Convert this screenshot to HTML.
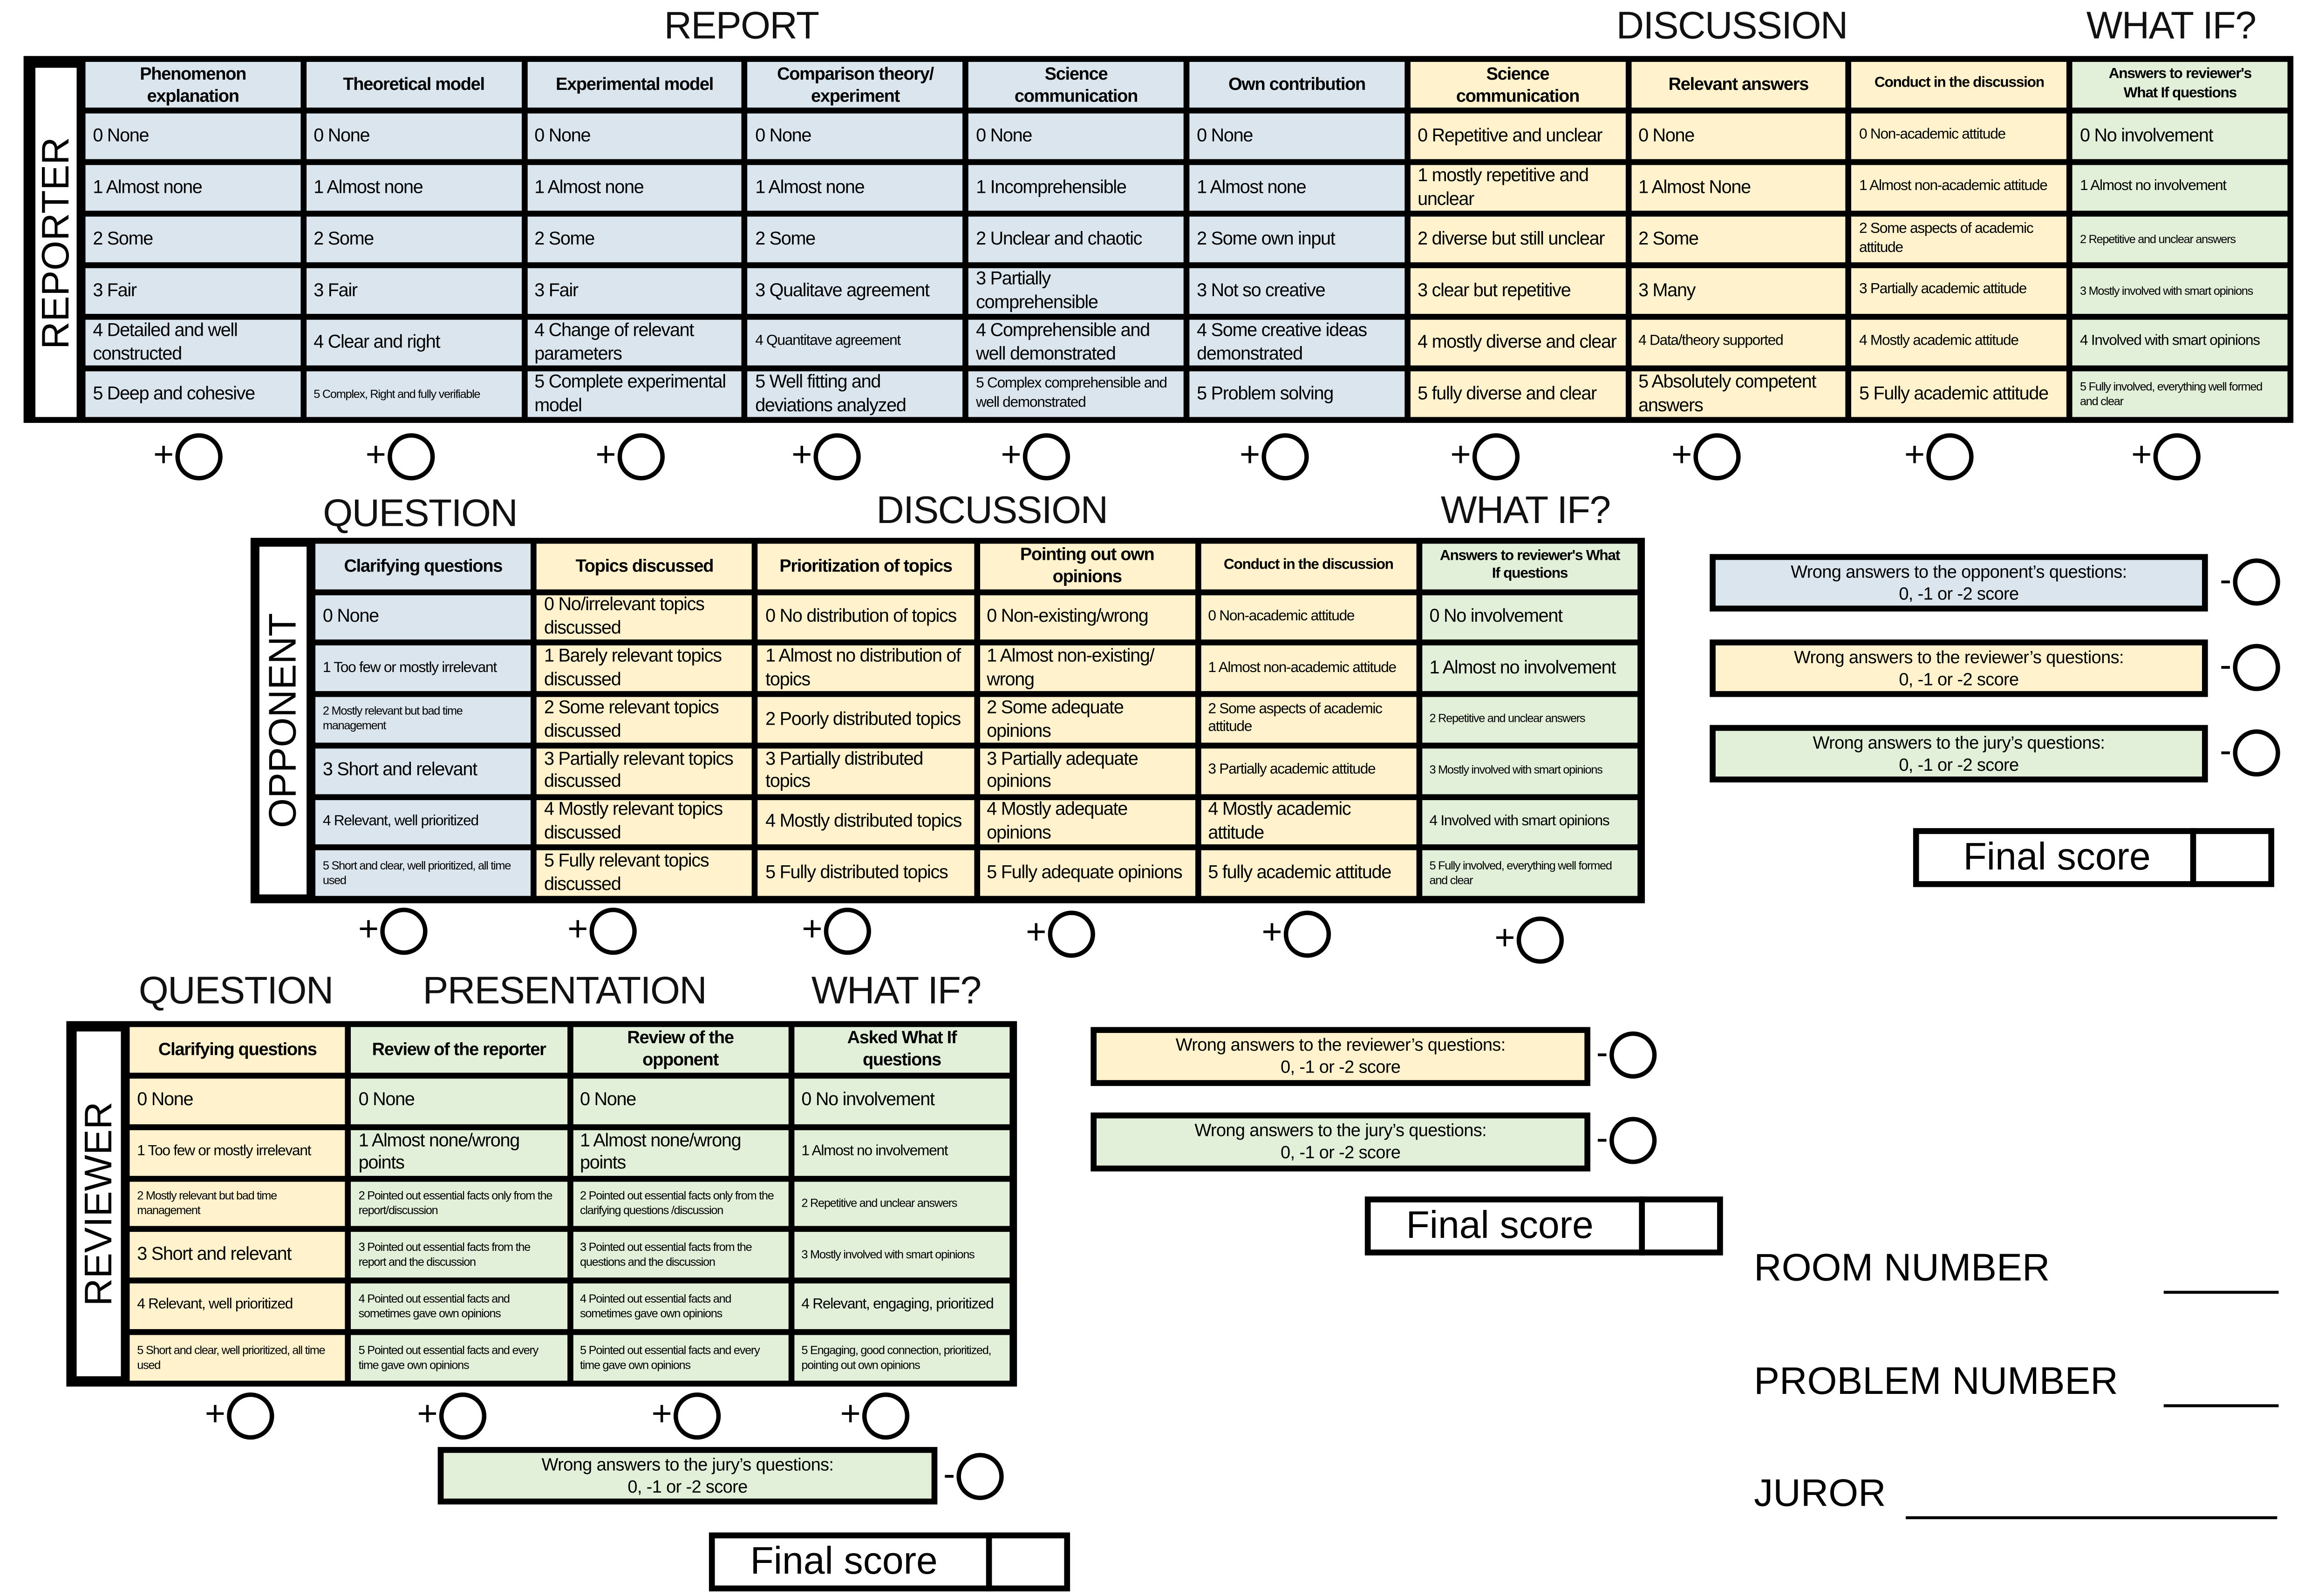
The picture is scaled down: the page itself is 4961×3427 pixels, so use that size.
<!DOCTYPE html>
<html><head><meta charset="utf-8"><style>
html,body{margin:0;padding:0;background:#fff;}
body{width:4961px;height:3425px;overflow:hidden;position:relative;font-family:"Liberation Sans",sans-serif;}
#w{position:absolute;left:0;top:0;width:1568px;height:1083px;transform:scale(3.164);transform-origin:0 0;}
.a{position:absolute;}
.t{position:absolute;font-size:26px;color:#111;white-space:nowrap;transform:translateX(-50%);letter-spacing:-0.5px;}
.tbl{position:absolute;background:#000;}
.lbl{position:absolute;background:#fff;}
.lbl span{position:absolute;left:50%;top:50%;transform:translate(-50%,-50%) rotate(-90deg);font-size:26px;white-space:nowrap;}
.g{position:absolute;display:grid;gap:4px;}
.g div{overflow:hidden;font-size:12.5px;line-height:1.25;padding:1px 5px;display:flex;align-items:center;letter-spacing:-0.4px;}
.g div.h{font-weight:bold;font-size:12px;justify-content:center;text-align:center;padding:1px 12px;}
.b{background:#dae5ee;}.y{background:#fff2cc;}.gr{background:#e2efd9;}
.s{font-size:10px!important;}.xs{font-size:8px!important;}
.pc{position:absolute;font-size:24px;line-height:30px;height:32px;}
.pc i{display:inline-block;width:26px;height:26px;border:3px solid #000;border-radius:50%;vertical-align:middle;margin-left:1px;}
.wb{position:absolute;border:4px solid #000;font-size:12px;text-align:center;line-height:15px;box-sizing:border-box;padding-top:1px;letter-spacing:-0.2px;}
.fs{position:absolute;border:4px solid #000;box-sizing:border-box;font-size:26px;line-height:31px;background:#fff;}
.fs b{position:absolute;top:-4px;bottom:-4px;width:4px;background:#000;}
.rt{position:absolute;font-size:26px;white-space:nowrap;}
.ln{position:absolute;height:2px;background:#000;}
</style></head><body><div id="w">

<div class="t" style="left:503px;top:2px">REPORT</div>
<div class="t" style="left:1175px;top:2px">DISCUSSION</div>
<div class="t" style="left:1473px;top:2px">WHAT IF?</div>
<div class="t" style="left:285px;top:333px">QUESTION</div>
<div class="t" style="left:673px;top:331px">DISCUSSION</div>
<div class="t" style="left:1035px;top:331px">WHAT IF?</div>
<div class="t" style="left:160px;top:657px">QUESTION</div>
<div class="t" style="left:383px;top:657px">PRESENTATION</div>
<div class="t" style="left:608px;top:657px">WHAT IF?</div>

<div class="tbl" style="left:16px;top:38px;width:1540px;height:249px">
<div class="lbl" style="left:8px;top:8px;width:28px;height:237px"><span>REPORTER</span></div>
<div class="g" style="left:42px;top:4px;width:1494px;height:241px;grid-template-columns:repeat(10,1fr);grid-template-rows:repeat(7,1fr)">
<div class="h b">Phenomenon explanation</div><div class="h b">Theoretical model</div><div class="h b">Experimental model</div><div class="h b">Comparison theory/ experiment</div><div class="h b">Science communication</div><div class="h b">Own contribution</div><div class="h y">Science communication</div><div class="h y">Relevant answers</div><div class="h y s">Conduct in the discussion</div><div class="h gr s">Answers to reviewer's What If questions</div>
<div class="b">0 None</div><div class="b">0 None</div><div class="b">0 None</div><div class="b">0 None</div><div class="b">0 None</div><div class="b">0 None</div><div class="y">0 Repetitive and unclear</div><div class="y">0 None</div><div class="y s">0 Non-academic attitude</div><div class="gr">0 No involvement</div>
<div class="b">1 Almost none</div><div class="b">1 Almost none</div><div class="b">1 Almost none</div><div class="b">1 Almost none</div><div class="b">1 Incomprehensible</div><div class="b">1 Almost none</div><div class="y">1 mostly repetitive and unclear</div><div class="y">1 Almost None</div><div class="y s">1 Almost non-academic attitude</div><div class="gr s">1 Almost no involvement</div>
<div class="b">2 Some</div><div class="b">2 Some</div><div class="b">2 Some</div><div class="b">2 Some</div><div class="b">2 Unclear and chaotic</div><div class="b">2 Some own input</div><div class="y">2 diverse but still unclear</div><div class="y">2 Some</div><div class="y s">2 Some aspects of academic attitude</div><div class="gr xs">2 Repetitive and unclear answers</div>
<div class="b">3 Fair</div><div class="b">3 Fair</div><div class="b">3 Fair</div><div class="b">3 Qualitave agreement</div><div class="b">3 Partially comprehensible</div><div class="b">3 Not so creative</div><div class="y">3 clear but repetitive</div><div class="y">3 Many</div><div class="y s">3 Partially academic attitude</div><div class="gr xs">3 Mostly involved with smart opinions</div>
<div class="b">4 Detailed and well constructed</div><div class="b">4 Clear and right</div><div class="b">4 Change of relevant parameters</div><div class="b s">4 Quantitave agreement</div><div class="b">4 Comprehensible and well demonstrated</div><div class="b">4 Some creative ideas demonstrated</div><div class="y">4 mostly diverse and clear</div><div class="y s">4 Data/theory supported</div><div class="y s">4 Mostly academic attitude</div><div class="gr s">4 Involved with smart opinions</div>
<div class="b">5 Deep and cohesive</div><div class="b xs">5 Complex, Right and fully verifiable</div><div class="b">5 Complete experimental model</div><div class="b">5 Well fitting and deviations analyzed</div><div class="b s">5 Complex comprehensible and well demonstrated</div><div class="b">5 Problem solving</div><div class="y">5 fully diverse and clear</div><div class="y">5 Absolutely competent answers</div><div class="y">5 Fully academic attitude</div><div class="gr xs">5 Fully involved, everything well formed and clear</div>
</div></div>

<div class="pc" style="left:104px;top:294px">+<i></i></div>
<div class="pc" style="left:248px;top:294px">+<i></i></div>
<div class="pc" style="left:404px;top:294px">+<i></i></div>
<div class="pc" style="left:537px;top:294px">+<i></i></div>
<div class="pc" style="left:679px;top:294px">+<i></i></div>
<div class="pc" style="left:841px;top:294px">+<i></i></div>
<div class="pc" style="left:984px;top:294px">+<i></i></div>
<div class="pc" style="left:1134px;top:294px">+<i></i></div>
<div class="pc" style="left:1292px;top:294px">+<i></i></div>
<div class="pc" style="left:1446px;top:294px">+<i></i></div>

<div class="tbl" style="left:170px;top:365px;width:946px;height:248px">
<div class="lbl" style="left:6px;top:6px;width:32px;height:236px"><span>OPPONENT</span></div>
<div class="g" style="left:44px;top:4px;width:897px;height:239px;grid-template-columns:repeat(6,1fr);grid-template-rows:repeat(7,1fr)">
<div class="h b">Clarifying questions</div><div class="h y">Topics discussed</div><div class="h y">Prioritization of topics</div><div class="h y">Pointing out own opinions</div><div class="h y s">Conduct in the discussion</div><div class="h gr s">Answers to reviewer's What If questions</div>
<div class="b">0 None</div><div class="y">0 No/irrelevant topics discussed</div><div class="y">0 No distribution of topics</div><div class="y">0 Non-existing/wrong</div><div class="y s">0 Non-academic attitude</div><div class="gr">0 No involvement</div>
<div class="b s">1 Too few or mostly irrelevant</div><div class="y">1 Barely relevant topics discussed</div><div class="y">1 Almost no distribution of topics</div><div class="y">1 Almost non-existing/ wrong</div><div class="y s">1 Almost non-academic attitude</div><div class="gr">1 Almost no involvement</div>
<div class="b xs">2 Mostly relevant but bad time management</div><div class="y">2 Some relevant topics discussed</div><div class="y">2 Poorly distributed topics</div><div class="y">2 Some adequate opinions</div><div class="y s">2 Some aspects of academic attitude</div><div class="gr xs">2 Repetitive and unclear answers</div>
<div class="b">3 Short and relevant</div><div class="y">3 Partially relevant topics discussed</div><div class="y">3 Partially distributed topics</div><div class="y">3 Partially adequate opinions</div><div class="y s">3 Partially academic attitude</div><div class="gr xs">3 Mostly involved with smart opinions</div>
<div class="b s">4 Relevant, well prioritized</div><div class="y">4 Mostly relevant topics discussed</div><div class="y">4 Mostly distributed topics</div><div class="y">4 Mostly adequate opinions</div><div class="y">4 Mostly academic attitude</div><div class="gr s">4 Involved with smart opinions</div>
<div class="b xs">5 Short and clear, well prioritized, all time used</div><div class="y">5 Fully relevant topics discussed</div><div class="y">5 Fully distributed topics</div><div class="y">5 Fully adequate opinions</div><div class="y">5 fully academic attitude</div><div class="gr xs">5 Fully involved, everything well formed and clear</div>
</div></div>

<div class="pc" style="left:243px;top:616px">+<i></i></div>
<div class="pc" style="left:385px;top:616px">+<i></i></div>
<div class="pc" style="left:544px;top:616px">+<i></i></div>
<div class="pc" style="left:696px;top:618px">+<i></i></div>
<div class="pc" style="left:856px;top:618px">+<i></i></div>
<div class="pc" style="left:1014px;top:622px">+<i></i></div>

<div class="wb b" style="left:1160px;top:376px;width:338px;height:39px">Wrong answers to the opponent’s questions:<br>0, -1 or -2 score</div>
<div class="pc" style="left:1506px;top:379px">-<i></i></div>
<div class="wb y" style="left:1160px;top:434px;width:338px;height:39px">Wrong answers to the reviewer’s questions:<br>0, -1 or -2 score</div>
<div class="pc" style="left:1506px;top:437px">-<i></i></div>
<div class="wb gr" style="left:1160px;top:492px;width:338px;height:39px">Wrong answers to the jury’s questions:<br>0, -1 or -2 score</div>
<div class="pc" style="left:1506px;top:495px">-<i></i></div>
<div class="fs" style="left:1298px;top:562px;width:245px;height:40px"><span style="position:absolute;left:30px;top:0">Final score</span><b style="left:184px"></b></div>

<div class="tbl" style="left:45px;top:693px;width:645px;height:248px">
<div class="lbl" style="left:7px;top:7px;width:30px;height:234px"><span>REVIEWER</span></div>
<div class="g" style="left:43px;top:4px;width:597px;height:240px;grid-template-columns:repeat(4,1fr);grid-template-rows:repeat(7,1fr)">
<div class="h y">Clarifying questions</div><div class="h gr">Review of the reporter</div><div class="h gr">Review of the opponent</div><div class="h gr">Asked What If questions</div>
<div class="y">0 None</div><div class="gr">0 None</div><div class="gr">0 None</div><div class="gr">0 No involvement</div>
<div class="y s">1 Too few or mostly irrelevant</div><div class="gr">1 Almost none/wrong points</div><div class="gr">1 Almost none/wrong points</div><div class="gr s">1 Almost no involvement</div>
<div class="y xs">2 Mostly relevant but bad time management</div><div class="gr xs">2 Pointed out essential facts only from the report/discussion</div><div class="gr xs">2 Pointed out essential facts only from the clarifying questions /discussion</div><div class="gr xs">2 Repetitive and unclear answers</div>
<div class="y">3 Short and relevant</div><div class="gr xs">3 Pointed out essential facts from the report and the discussion</div><div class="gr xs">3 Pointed out essential facts from the questions and the discussion</div><div class="gr xs">3 Mostly involved with smart opinions</div>
<div class="y s">4 Relevant, well prioritized</div><div class="gr xs">4 Pointed out essential facts and sometimes gave own opinions</div><div class="gr xs">4 Pointed out essential facts and sometimes gave own opinions</div><div class="gr s">4 Relevant, engaging, prioritized</div>
<div class="y xs">5 Short and clear, well prioritized, all time used</div><div class="gr xs">5 Pointed out essential facts and every time gave own opinions</div><div class="gr xs">5 Pointed out essential facts and every time gave own opinions</div><div class="gr xs">5 Engaging, good connection, prioritized, pointing out own opinions</div>
</div></div>

<div class="pc" style="left:139px;top:945px">+<i></i></div>
<div class="pc" style="left:283px;top:945px">+<i></i></div>
<div class="pc" style="left:442px;top:945px">+<i></i></div>
<div class="pc" style="left:570px;top:945px">+<i></i></div>

<div class="wb y" style="left:740px;top:697px;width:339px;height:40px">Wrong answers to the reviewer’s questions:<br>0, -1 or -2 score</div>
<div class="pc" style="left:1083px;top:700px">-<i></i></div>
<div class="wb gr" style="left:740px;top:755px;width:339px;height:40px">Wrong answers to the jury’s questions:<br>0, -1 or -2 score</div>
<div class="pc" style="left:1083px;top:758px">-<i></i></div>
<div class="fs" style="left:926px;top:812px;width:243px;height:40px"><span style="position:absolute;left:24px;top:0">Final score</span><b style="left:182px"></b></div>

<div class="wb gr" style="left:297px;top:982px;width:339px;height:39px">Wrong answers to the jury’s questions:<br>0, -1 or -2 score</div>
<div class="pc" style="left:640px;top:986px">-<i></i></div>
<div class="fs" style="left:481px;top:1040px;width:245px;height:40px"><span style="position:absolute;left:24px;top:0">Final score</span><b style="left:184px"></b></div>

<div class="rt" style="left:1190px;top:845px">ROOM NUMBER</div>
<div class="ln" style="left:1468px;top:876px;width:78px"></div>
<div class="rt" style="left:1190px;top:922px">PROBLEM NUMBER</div>
<div class="ln" style="left:1468px;top:953px;width:78px"></div>
<div class="rt" style="left:1190px;top:998px">JUROR</div>
<div class="ln" style="left:1293px;top:1029px;width:252px"></div>

</div></body></html>
